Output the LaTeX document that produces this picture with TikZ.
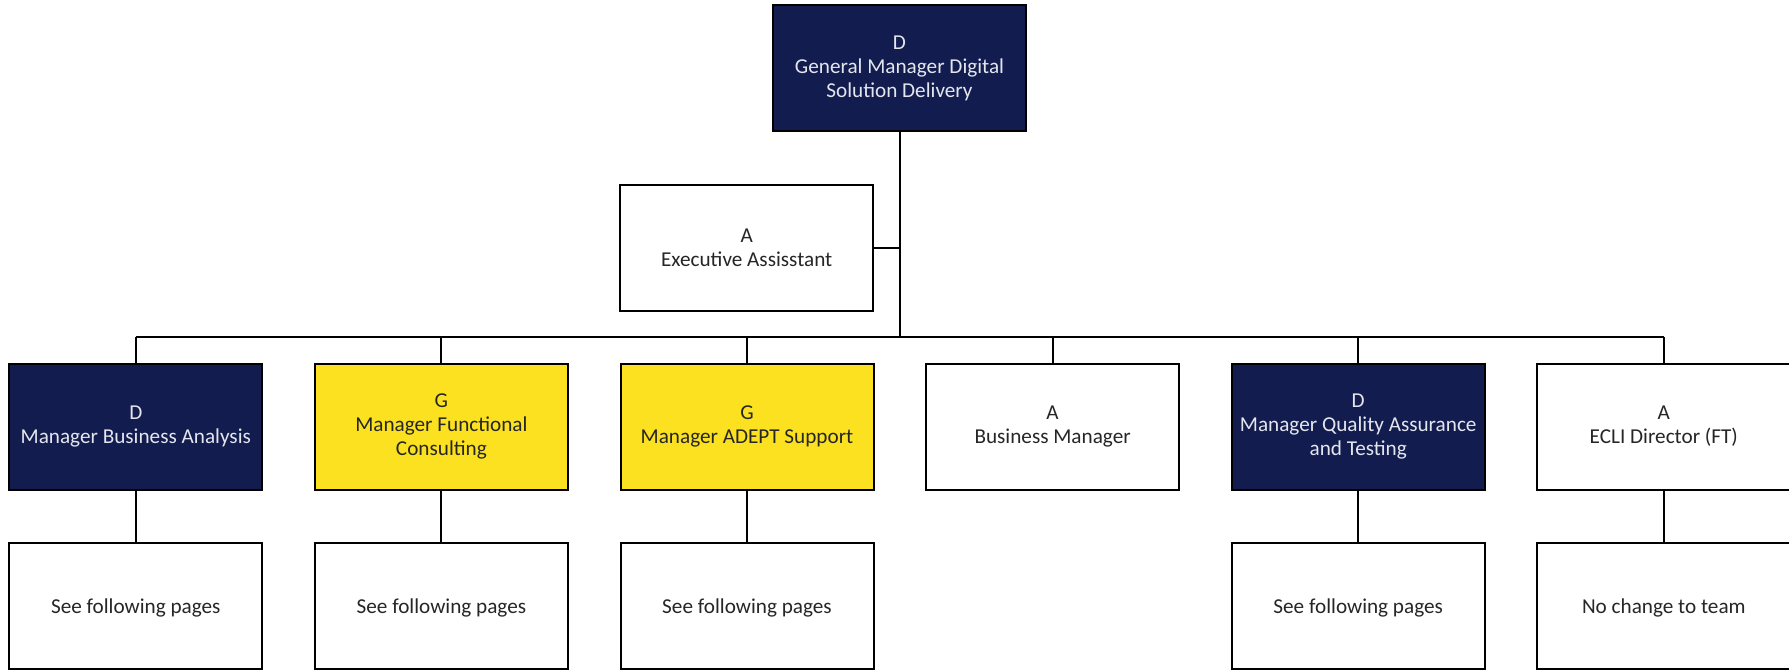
\documentclass[tikz,border=0pt]{standalone}
\usepackage{fontspec}
\setmainfont{Carlito}
\definecolor{navy}{HTML}{121C4E}
\definecolor{gold}{HTML}{FCE120}
\definecolor{inktext}{HTML}{262626}
\definecolor{paletext}{HTML}{E4E6EE}
\begin{document}
\begin{tikzpicture}[x=0.5pt,y=-0.5pt,
  box/.style={draw=black, line width=1pt, minimum width=126.5pt, minimum height=63pt,
    inner sep=2pt, align=center, font=\fontsize{10.6pt}{12pt}\selectfont,
    execute at begin node={\rule{0pt}{9.1pt}}},
  whitebox/.style={box, fill=white, text=inktext},
  navybox/.style={box, fill=navy, text=paletext},
  goldbox/.style={box, fill=gold, text=inktext},
  link/.style={draw=black, line width=1pt}]
\clip (0,0) rectangle (1789,671);
\fill[white] (0,0) rectangle (1789,671);

% top of the structure and its assistant
\node[navybox] (gm) at (899.5,68) {D\\General Manager Digital\\Solution Delivery};
\node[whitebox] (ea) at (746.7,247.5) {A\\Executive Assisstant};

% direct reports
\node[navybox]  (c1) at (135.8,426.5) {D\\Manager Business Analysis};
\node[goldbox]  (c2) at (441.4,426.5) {G\\Manager Functional\\Consulting};
\node[goldbox]  (c3) at (747.0,426.5) {G\\Manager ADEPT Support};
\node[whitebox] (c4) at (1052.6,426.5) {A\\Business Manager};
\node[navybox]  (c5) at (1358.2,426.5) {D\\Manager Quality Assurance\\and Testing};
\node[whitebox] (c6) at (1663.8,426.5) {A\\ECLI Director (FT)};

% teams below
\node[whitebox] (s1) at (135.8,606) {See following pages};
\node[whitebox] (s2) at (441.4,606) {See following pages};
\node[whitebox] (s3) at (747.0,606) {See following pages};
\node[whitebox] (s5) at (1358.2,606) {See following pages};
\node[whitebox] (s6) at (1663.8,606) {No change to team};

\coordinate (bus) at (0,336.5);

% trunk, assistant branch and the horizontal bus
\draw[link] (gm.south) -- (gm.south |- bus);
\draw[link] (ea.east) -- (ea.east -| gm.south);
\draw[link] (c1.north |- bus) -- (c6.north |- bus);
\foreach \n in {c1,c2,c3,c4,c5,c6}
  \draw[link] (\n.north) -- (\n.north |- bus);
\foreach \a/\b in {c1/s1,c2/s2,c3/s3,c5/s5,c6/s6}
  \draw[link] (\a.south) -- (\b.north);
\end{tikzpicture}
\end{document}
